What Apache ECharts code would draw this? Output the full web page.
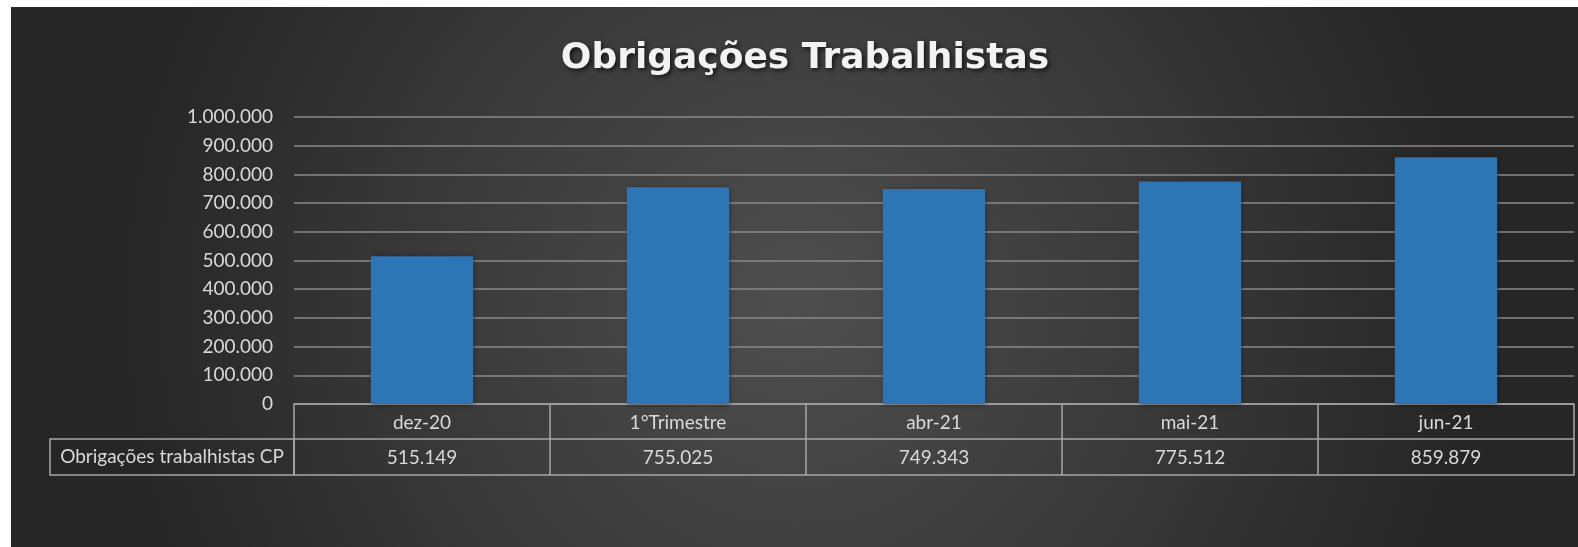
<!DOCTYPE html>
<html>
<head>
<meta charset="utf-8">
<script src="https://cdn.jsdelivr.net/npm/echarts@6/dist/echarts.min.js"></script>
<style>
html,body{margin:0;padding:0;background:#ffffff;}
#chart{width:1578px;height:547px;}
</style>
</head>
<body>
<div id="chart"></div>
<script>
const titleText = 'Obrigações Trabalhistas';
const seriesName = 'Obrigações trabalhistas CP';
const categories = ['dez-20', '1°Trimestre', 'abr-21', 'mai-21', 'jun-21'];
const values = [515149, 755025, 749343, 775512, 859879];
const yMin = 0;
const yMax = 1000000;
const yStep = 100000;

function fmt(v) {
  return String(Math.round(v)).replace(/\B(?=(\d{3})+(?!\d))/g, '.');
}

const lineCol = '#a6a6a6';
const textCol = '#d9d9d9';
const fontFam = 'Lato, "Open Sans", sans-serif';

const chart = echarts.init(document.getElementById('chart'), null, {renderer: 'canvas'});
chart.setOption({
  backgroundColor: 'transparent',
  animation: false,
  title: {
    text: titleText,
    left: 800,
    textAlign: 'center',
    top: 36,
    textStyle: {
      color: '#f2f2f2',
      fontSize: 36,
      fontWeight: 'bold',
      fontFamily: '"DejaVu Sans", sans-serif',
      textShadowColor: 'rgba(0,0,0,0.7)',
      textShadowBlur: 5,
      textShadowOffsetX: 2,
      textShadowOffsetY: 2
    }
  },
  graphic: [
    {
      type: 'rect',
      z: -10,
      silent: true,
      shape: {x: 11, y: 7, width: 1567, height: 540},
      style: {
        fill: {
          type: 'radial', x: 0.5, y: 0.55, r: 1.25,
          colorStops: [
            {offset: 0, color: '#4e4e4e'},
            {offset: 0.55, color: '#393939'},
            {offset: 1, color: '#262626'}
          ]
        }
      }
    },
    {
      type: 'rect',
      silent: true,
      shape: {x: 50, y: 439, width: 244, height: 36},
      style: {fill: 'none', stroke: lineCol, lineWidth: 1.5}
    },
    {
      type: 'text',
      silent: true,
      x: 172, y: 457,
      style: {
        text: seriesName,
        fill: textCol,
        font: '19px ' + fontFam,
        align: 'center',
        verticalAlign: 'middle'
      }
    }
  ],
  grid: {left: 294, right: 4, top: 117, bottom: 143, containLabel: false},
  xAxis: [
    {
      type: 'category',
      data: categories,
      position: 'bottom',
      axisLine: {show: true, lineStyle: {color: lineCol, width: 1.5}},
      axisTick: {show: true, length: 71, lineStyle: {color: lineCol, width: 1.5}},
      axisLabel: {color: textCol, fontSize: 19, fontFamily: fontFam, margin: 9, interval: 0}
    },
    {
      type: 'category',
      data: categories,
      position: 'bottom',
      offset: 35,
      axisLine: {show: true, lineStyle: {color: lineCol, width: 1.5}},
      axisTick: {show: false},
      axisLabel: {
        color: textCol, fontSize: 19, fontFamily: fontFam, margin: 9, interval: 0,
        formatter: function (v, i) { return fmt(values[i]); }
      }
    },
    {
      type: 'category',
      data: categories,
      position: 'bottom',
      offset: 71,
      axisLine: {show: true, lineStyle: {color: lineCol, width: 1.5}},
      axisTick: {show: false},
      axisLabel: {show: false}
    }
  ],
  yAxis: {
    type: 'value',
    min: yMin,
    max: yMax,
    interval: yStep,
    axisLine: {show: false},
    axisTick: {show: false},
    splitLine: {lineStyle: {color: '#8a8a8a', width: 1.5}},
    axisLabel: {
      color: textCol, fontSize: 19, fontFamily: fontFam, margin: 21,
      formatter: function (v) { return fmt(v); }
    }
  },
  series: [{
    name: seriesName,
    type: 'bar',
    xAxisIndex: 0,
    data: values,
    barWidth: '40%',
    itemStyle: {
      color: '#2e75b6',
      shadowColor: 'rgba(0,0,0,0.45)',
      shadowBlur: 5,
      shadowOffsetX: 1,
      shadowOffsetY: 1
    }
  }]
});
</script>
</body>
</html>
